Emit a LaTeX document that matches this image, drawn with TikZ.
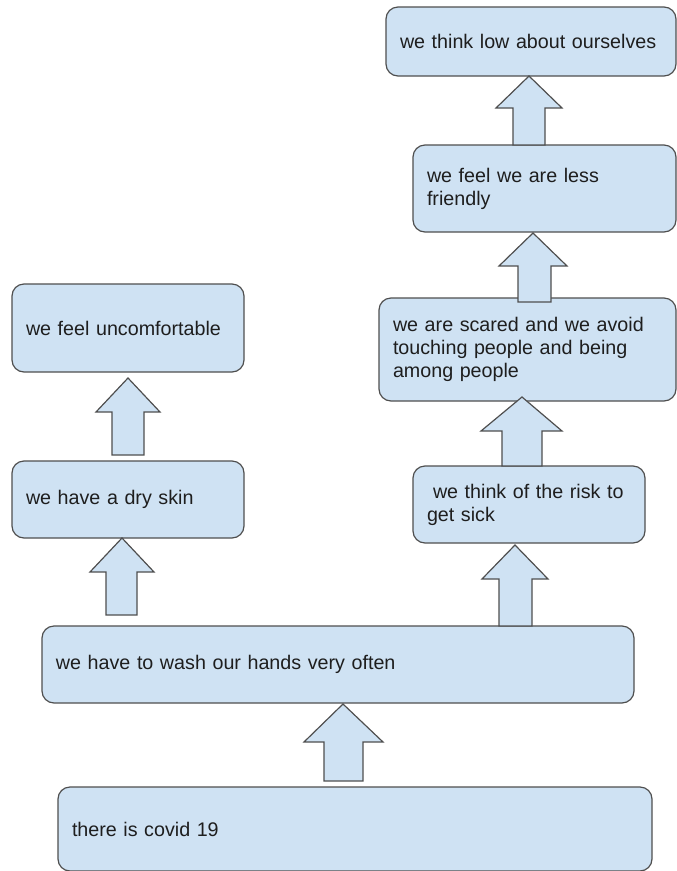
\documentclass[tikz,border=0pt]{standalone}
\usepackage{fontspec}
\setmainfont{Liberation Sans}
\definecolor{boxfill}{HTML}{CFE2F3}
\definecolor{boxline}{HTML}{4F4F4F}
\definecolor{txt}{HTML}{1E1E1E}
\begin{document}
\begin{tikzpicture}[x=1pt,y=-1pt,
  box/.style={draw=boxline, fill=boxfill, rounded corners=12pt, line width=1.2pt,
    inner xsep=14pt, inner ysep=0pt, outer sep=0pt, align=left, text=txt,
    font=\fontsize{19.7}{23}\selectfont},
  blockarr/.style={draw=boxline, fill=boxfill, line width=1.2pt, line join=miter}]
\useasboundingbox (0,0) rectangle (677,871);
% boxes: centre, width, height
\node[box, minimum width=290pt, minimum height=69pt, text width=262pt] (b1) at (531,41.5) {we think low about ourselves};
\node[box, minimum width=263pt, minimum height=87pt, text width=235pt] (b2) at (544.5,188.5) {we feel we are less\\friendly};
\node[box, minimum width=297pt, minimum height=103pt, text width=269pt] (b3) at (527.5,349.5) {we are scared and we avoid\\touching people and being\\among people};
\node[box, minimum width=232pt, minimum height=77pt, text width=204pt] (b4) at (529,504.5) {\hspace*{6pt}we think of the risk to\\get sick};
\node[box, minimum width=232pt, minimum height=88pt, text width=204pt] (b5) at (128,328) {we feel uncomfortable};
\node[box, minimum width=232pt, minimum height=77pt, text width=204pt] (b6) at (128,499.5) {we have a dry skin};
\node[box, minimum width=592pt, minimum height=77pt, text width=564pt] (b7) at (338,664.5) {we have to wash our hands very often};
\node[box, minimum width=594pt, minimum height=84pt, text width=566pt] (b8) at (355,829) {there is covid 19};
% block arrows: tip, head base, head sides, shaft sides, shaft bottom
\newcommand\blockarrow[8]{%
  \draw[blockarr] (#1,#2) -- (#5,#3) -- (#7,#3) -- (#7,#8) -- (#6,#8) -- (#6,#3) -- (#4,#3) -- cycle;}
\blockarrow{529}{76}{108}{496}{562}{513}{545}{145}
\blockarrow{533}{233}{266}{499}{567}{518}{551}{302}
\blockarrow{522}{397}{431}{481}{562}{502}{542}{466}
\blockarrow{515}{545}{579}{482}{548}{499}{532}{626}
\blockarrow{122}{538}{572}{90}{154}{106}{137}{615}
\blockarrow{128}{378}{412}{96}{160}{112}{144}{455}
\blockarrow{343}{704}{742}{304}{383}{324}{363}{781}
\end{tikzpicture}
\end{document}
